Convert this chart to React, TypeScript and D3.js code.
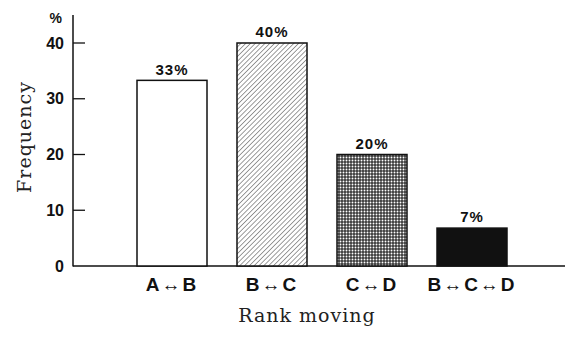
import React from "react";
import * as d3 from "d3";

const categories = ["A\u2194B", "B\u2194C", "C\u2194D", "B\u2194C\u2194D"];
const values = [33.3, 40, 20, 6.8];
const valueLabels = ["33%", "40%", "20%", "7%"];
const yTicks = [0, 10, 20, 30, 40];
const fills = ["white", "url(#hatch)", "url(#cross)", "#111"];

export default function App() {
  const W = 567, H = 337;
  const x = d3.scaleBand<string>().domain(categories).range([122, 522]).paddingInner(0.3).paddingOuter(0.15);
  const y = d3.scaleLinear().domain([0, 40]).range([266, 43]);
  const sans = "'Liberation Sans', Arial, sans-serif";
  const serif = "'DejaVu Serif', 'Liberation Serif', serif";
  return (
    <svg width={W} height={H} style={{ position: "absolute", left: 0, top: 0, background: "white" }}>
      <defs>
        <pattern id="hatch" patternUnits="userSpaceOnUse" width={3.4} height={3.4} patternTransform="rotate(45)">
          <rect width={3.4} height={3.4} fill="white" />
          <line x1={0} y1={0} x2={0} y2={3.4} stroke="#222" strokeWidth={0.9} />
        </pattern>
        <pattern id="cross" patternUnits="userSpaceOnUse" width={3} height={3}>
          <rect width={3} height={3} fill="#3a3a3a" />
          <circle cx={1.5} cy={1.5} r={0.95} fill="white" />
        </pattern>
      </defs>
      <line x1={73} y1={15} x2={73} y2={266.5} stroke="#111" strokeWidth={1.5} />
      <line x1={73} y1={266} x2={565} y2={266} stroke="#111" strokeWidth={1.5} />
      {yTicks.map((t) => (
        <g key={t}>
          {t > 0 && <line x1={73} x2={85} y1={y(t)} y2={y(t)} stroke="#111" strokeWidth={1.3} />}
          <text x={64} y={y(t)} dy="0.35em" textAnchor="end" fontFamily={sans} fontWeight="bold" fontSize={16} fill="#111">{t}</text>
        </g>
      ))}
      <text x={62} y={18} dy="0.35em" textAnchor="end" fontFamily={sans} fontWeight="bold" fontSize={14} fill="#111">%</text>
      {categories.map((c, i) => (
        <g key={c}>
          <rect x={x(c)} y={y(values[i])} width={x.bandwidth()} height={y(0) - y(values[i])} fill={fills[i]} stroke="#111" strokeWidth={1.5} />
          <text x={(x(c) as number) + x.bandwidth() / 2} y={y(values[i]) - 11} dy="0.35em" textAnchor="middle" fontFamily={sans} fontWeight="bold" fontSize={15} letterSpacing={1} fill="#111">{valueLabels[i]}</text>
          <text x={(x(c) as number) + x.bandwidth() / 2} y={284} dy="0.35em" textAnchor="middle" fontFamily={sans} fontWeight="bold" fontSize={19} letterSpacing={2} fill="#111">{c}</text>
        </g>
      ))}
      <text x={307} y={315} dy="0.35em" textAnchor="middle" fontFamily={serif} fontSize={19} letterSpacing={1} fill="#222">Rank moving</text>
      <text transform="translate(24,137) rotate(-90)" dy="0.35em" textAnchor="middle" fontFamily={serif} fontSize={19} letterSpacing={1} fill="#222">Frequency</text>
    </svg>
  );
}
